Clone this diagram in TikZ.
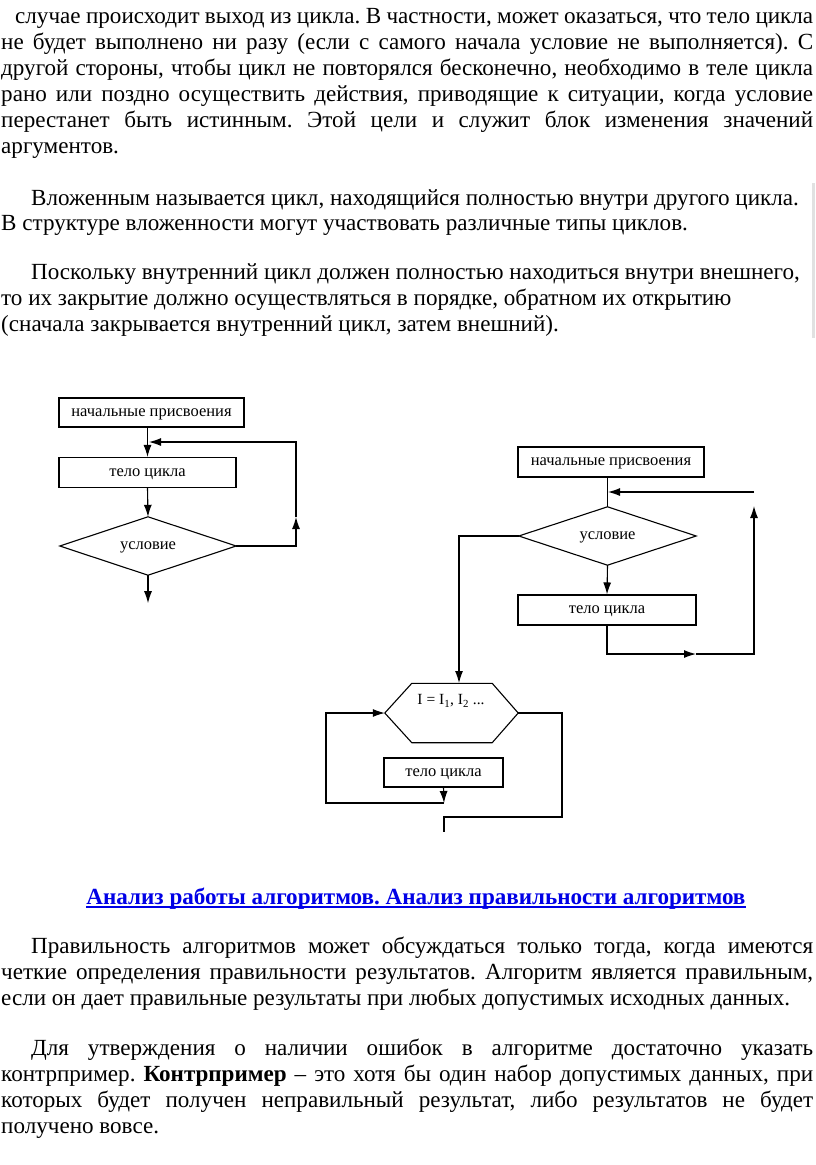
\documentclass[tikz,border=0pt]{standalone}
\usepackage{fontspec}
\setmainfont{Liberation Serif}
\usetikzlibrary{arrows.meta}

\definecolor{headblue}{RGB}{0,0,230}
\definecolor{bargray}{RGB}{225,225,225}

\tikzset{
  txt/.style={anchor=base west, inner sep=0pt, font=\fontsize{23.1}{26}\selectfont},
  blk/.style={draw, line width=1.1pt, inner sep=0pt, text height=7.5pt, text depth=0pt, font=\fontsize{16.5}{18}\selectfont},
  cnd/.style={inner sep=0pt, text height=7.5pt, text depth=0pt, font=\fontsize{16.5}{18}\selectfont},
  flow/.style={line width=1.1pt, -{Latex[length=12pt,width=8pt]}},
  wire/.style={line width=1.1pt},
}
\newcommand\jl[2]{\makebox[#1][s]{#2}}
\frenchspacing

\begin{document}
\begin{tikzpicture}[x=1pt,y=-1pt]
\useasboundingbox (0,0) rectangle (816,1165);

% text above
\node[txt] (p1a) at (15,23) {\jl{798pt}{случае происходит выход из цикла. В частности, может оказаться, что тело цикла}};
\node[txt] (p1b) at (1,49) {\jl{812pt}{не будет выполнено ни разу (если с самого начала условие не выполняется). С}};
\node[txt] (p1c) at (1,75) {\jl{812pt}{другой стороны, чтобы цикл не повторялся бесконечно, необходимо в теле цикла}};
\node[txt] (p1d) at (1,101) {\jl{812pt}{рано или поздно осуществить действия, приводящие к ситуации, когда условие}};
\node[txt] (p1e) at (1,127) {\jl{812pt}{перестанет быть истинным. Этой цели и служит блок изменения значений}};
\node[txt] (p1f) at (1,153) {аргументов.};

\fill[bargray] (812,183) rectangle (815,338);
\node[txt] (p2a) at (31,205) {Вложенным называется цикл, находящийся полностью внутри другого цикла.};
\node[txt] (p2b) at (1,230) {В структуре вложенности могут участвовать различные типы циклов.};
\node[txt] (p3a) at (31,279) {Поскольку внутренний цикл должен полностью находиться внутри внешнего,};
\node[txt] (p3b) at (1,305) {то их закрытие должно осуществляться в порядке, обратном их открытию};
\node[txt] (p3c) at (1,331) {(сначала закрывается внутренний цикл, затем внешний).};

% loop with postcondition
\node[blk, minimum width=185pt, minimum height=29pt] (init1) at (151.5,412.5) {начальные присвоения};
\node[blk, minimum width=177pt, minimum height=30pt] (body1) at (147.5,472.5) {тело цикла};
\node[cnd, minimum width=176pt, minimum height=58pt] (cond1) at (148,546) {условие};
\draw[wire] (cond1.west) -- (cond1.north) -- (cond1.east) -- (cond1.south) -- cycle;
\coordinate (r1) at (296,517);
\coordinate (j1) at (149,442);
\draw[flow] (init1.south -| body1.north) -- (body1.north);
\draw[flow] (body1.south) -- (cond1.north);
\draw[flow] (cond1.east) -| (r1);
\draw[flow] (r1) |- (j1);
\draw[flow] (cond1.south) -- ++(0,28);

% loop with precondition
\node[blk, minimum width=186pt, minimum height=30pt] (init2) at (611,462) {начальные присвоения};
\node[cnd, minimum width=177pt, minimum height=58pt] (cond2) at (607.5,536) {условие};
\draw[wire] (cond2.west) -- (cond2.north) -- (cond2.east) -- (cond2.south) -- cycle;
\node[blk, minimum width=178pt, minimum height=30pt] (body2) at (607,610) {тело цикла};
\coordinate (j2) at (608,492);
\coordinate (s2) at (754,492);
\coordinate (m2) at (696,654);
\coordinate (t2) at (754,506);
\coordinate (h2) at (459,683);
\draw[wire] (init2.south -| cond2.north) -- (cond2.north);
\draw[flow] (s2) -- (j2);
\draw[flow] (cond2.south) -- (body2.north);
\draw[flow] (body2.south) |- (m2);
\draw[flow] (m2) -| (t2);
\draw[flow] (cond2.west) -| (h2);

% loop with parameter
\node[minimum width=133pt, minimum height=59pt, inner sep=0pt] (hexa) at (451.5,713) {};
\draw[wire] (hexa.west) -- ([xshift=27pt]hexa.north west) -- ([xshift=-26pt]hexa.north east)
  -- (hexa.east) -- ([xshift=-26pt]hexa.south east) -- ([xshift=27pt]hexa.south west) -- cycle;
\node[font=\fontsize{15.5}{17}\selectfont] (hexlbl) at (451,701) {I = I\textsubscript{1}, I\textsubscript{2} ...};
\node[blk, minimum width=119pt, minimum height=29pt] (body3) at (443.5,772.5) {тело цикла};
\coordinate (c3) at (444,803);
\coordinate (l3) at (326,713);
\coordinate (e3) at (562,817);
\coordinate (x3) at (444,832);
\draw[flow] (body3.south) -- (c3);
\draw[flow] (c3) -| (l3) -- (hexa.west);
\draw[wire] (hexa.east) -| (e3) -| (x3);

% heading
\node[anchor=base, inner sep=0pt, text=headblue, font=\fontsize{23.1}{26}\selectfont\bfseries] (head) at (416,904)
  {Анализ работы алгоритмов. Анализ правильности алгоритмов};
\draw[headblue, line width=1.4pt] ([yshift=-3pt]head.base west) -- ([yshift=-3pt]head.base east);

% text below
\node[txt] (p4a) at (31,953) {\jl{782pt}{Правильность алгоритмов может обсуждаться только тогда, когда имеются}};
\node[txt] (p4b) at (1,979) {\jl{812pt}{четкие определения правильности результатов. Алгоритм является правильным,}};
\node[txt] (p4c) at (1,1005) {если он дает правильные результаты при любых допустимых исходных данных.};
\node[txt] (p5a) at (31,1055) {\jl{782pt}{Для утверждения о наличии ошибок в алгоритме достаточно указать}};
\node[txt] (p5b) at (1,1081) {\jl{812pt}{контрпример. \textbf{Контрпример} – это хотя бы один набор допустимых данных, при}};
\node[txt] (p5c) at (1,1107) {\jl{812pt}{которых будет получен неправильный результат, либо результатов не будет}};
\node[txt] (p5d) at (1,1133) {получено вовсе.};
\end{tikzpicture}
\end{document}
